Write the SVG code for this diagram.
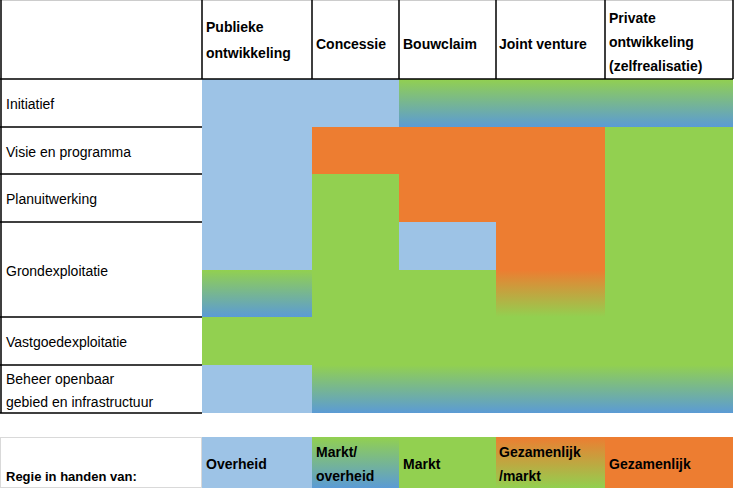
<svg xmlns="http://www.w3.org/2000/svg" width="734" height="489" viewBox="0 0 734 489">
<defs>
<linearGradient id="gb" x1="0" y1="0" x2="0" y2="1"><stop offset="0" stop-color="#92D050"/><stop offset="1" stop-color="#5B9BD5"/></linearGradient>
<linearGradient id="og" x1="0" y1="0" x2="0" y2="1"><stop offset="0" stop-color="#ED7D31"/><stop offset="1" stop-color="#92D050"/></linearGradient>
<linearGradient id="ogl" x1="0" y1="0" x2="0" y2="1"><stop offset="0" stop-color="#ED7D31"/><stop offset="1" stop-color="#92D050"/></linearGradient>
<style>
.b{fill:#9DC3E6}.g{fill:#92D050}.o{fill:#ED7D31}
text{font-family:"Liberation Sans",Arial,sans-serif;font-size:14px;fill:#000}
.h{font-weight:bold}
.ln{stroke:#000;stroke-width:1.5}
</style>
</defs>
<rect width="734" height="489" fill="#fff"/>
<g id="cells">
<rect class="b" x="202" y="79" width="197" height="48"/>
<rect x="399" y="79" width="334" height="48" fill="url(#gb)"/>
<rect class="b" x="202" y="127" width="110" height="143"/>
<rect class="o" x="312" y="127" width="293" height="47"/>
<rect class="g" x="605" y="127" width="128" height="286"/>
<rect class="g" x="312" y="174" width="87" height="239"/>
<rect class="o" x="399" y="174" width="206" height="48"/>
<rect class="b" x="399" y="222" width="97" height="48"/>
<rect class="o" x="496" y="222" width="109" height="48"/>
<rect x="202" y="270" width="110" height="47" fill="url(#gb)"/>
<rect class="g" x="399" y="270" width="97" height="95"/>
<rect x="496" y="270" width="109" height="47" fill="url(#og)"/>
<rect class="g" x="202" y="317" width="531" height="48"/>
<rect class="b" x="202" y="365" width="110" height="48"/>
<rect x="312" y="365" width="421" height="48" fill="url(#gb)"/>
</g>
<g id="grid" fill="none">
<line class="ln" x1="0" y1="0.5" x2="733" y2="0.5" stroke="#ccc" style="stroke:#ccc;stroke-width:1"/>
<path class="ln" d="M1 0V413M202 0V79M312 0V79M399 0V79M496 0V79M605 0V79M733 0V79M0 79H733M0 127H202M0 174H202M0 222H202M0 317H202M0 365H202M0 413H202"/>
</g>
<g id="header">
<text class="h" x="206" y="32">Publieke</text><text class="h" x="206" y="58">ontwikkeling</text>
<text class="h" x="316" y="49">Concessie</text>
<text class="h" x="403" y="49">Bouwclaim</text>
<text class="h" x="499" y="49">Joint venture</text>
<text class="h" x="609" y="23">Private</text><text class="h" x="609" y="47">ontwikkeling</text><text class="h" x="609" y="71">(zelfrealisatie)</text>
</g>
<g id="rows">
<text x="6" y="109">Initiatief</text>
<text x="6" y="157">Visie en programma</text>
<text x="6" y="204">Planuitwerking</text>
<text x="6" y="276">Grondexploitatie</text>
<text x="6" y="347">Vastgoedexploitatie</text>
<text x="6" y="384">Beheer openbaar</text>
<text x="6" y="407">gebied en infrastructuur</text>
</g>
<g id="legend">
<rect x="0.5" y="437.5" width="201" height="50" fill="#fff" stroke="#d9d9d9"/>
<rect class="b" x="202" y="437" width="110" height="51"/>
<rect x="312" y="437" width="87" height="51" fill="url(#gb)"/>
<rect class="g" x="399" y="437" width="97" height="51"/>
<rect x="496" y="437" width="109" height="51" fill="url(#ogl)"/>
<rect class="o" x="605" y="437" width="128" height="51"/>
<text class="h" x="6" y="481" style="font-size:13px">Regie in handen van:</text>
<text class="h" x="206" y="469">Overheid</text>
<text class="h" x="316" y="457">Markt/</text><text class="h" x="316" y="481">overheid</text>
<text class="h" x="403" y="469">Markt</text>
<text class="h" x="499" y="457">Gezamenlijk</text><text class="h" x="499" y="481">/markt</text>
<text class="h" x="609" y="469">Gezamenlijk</text>
</g>
</svg>
